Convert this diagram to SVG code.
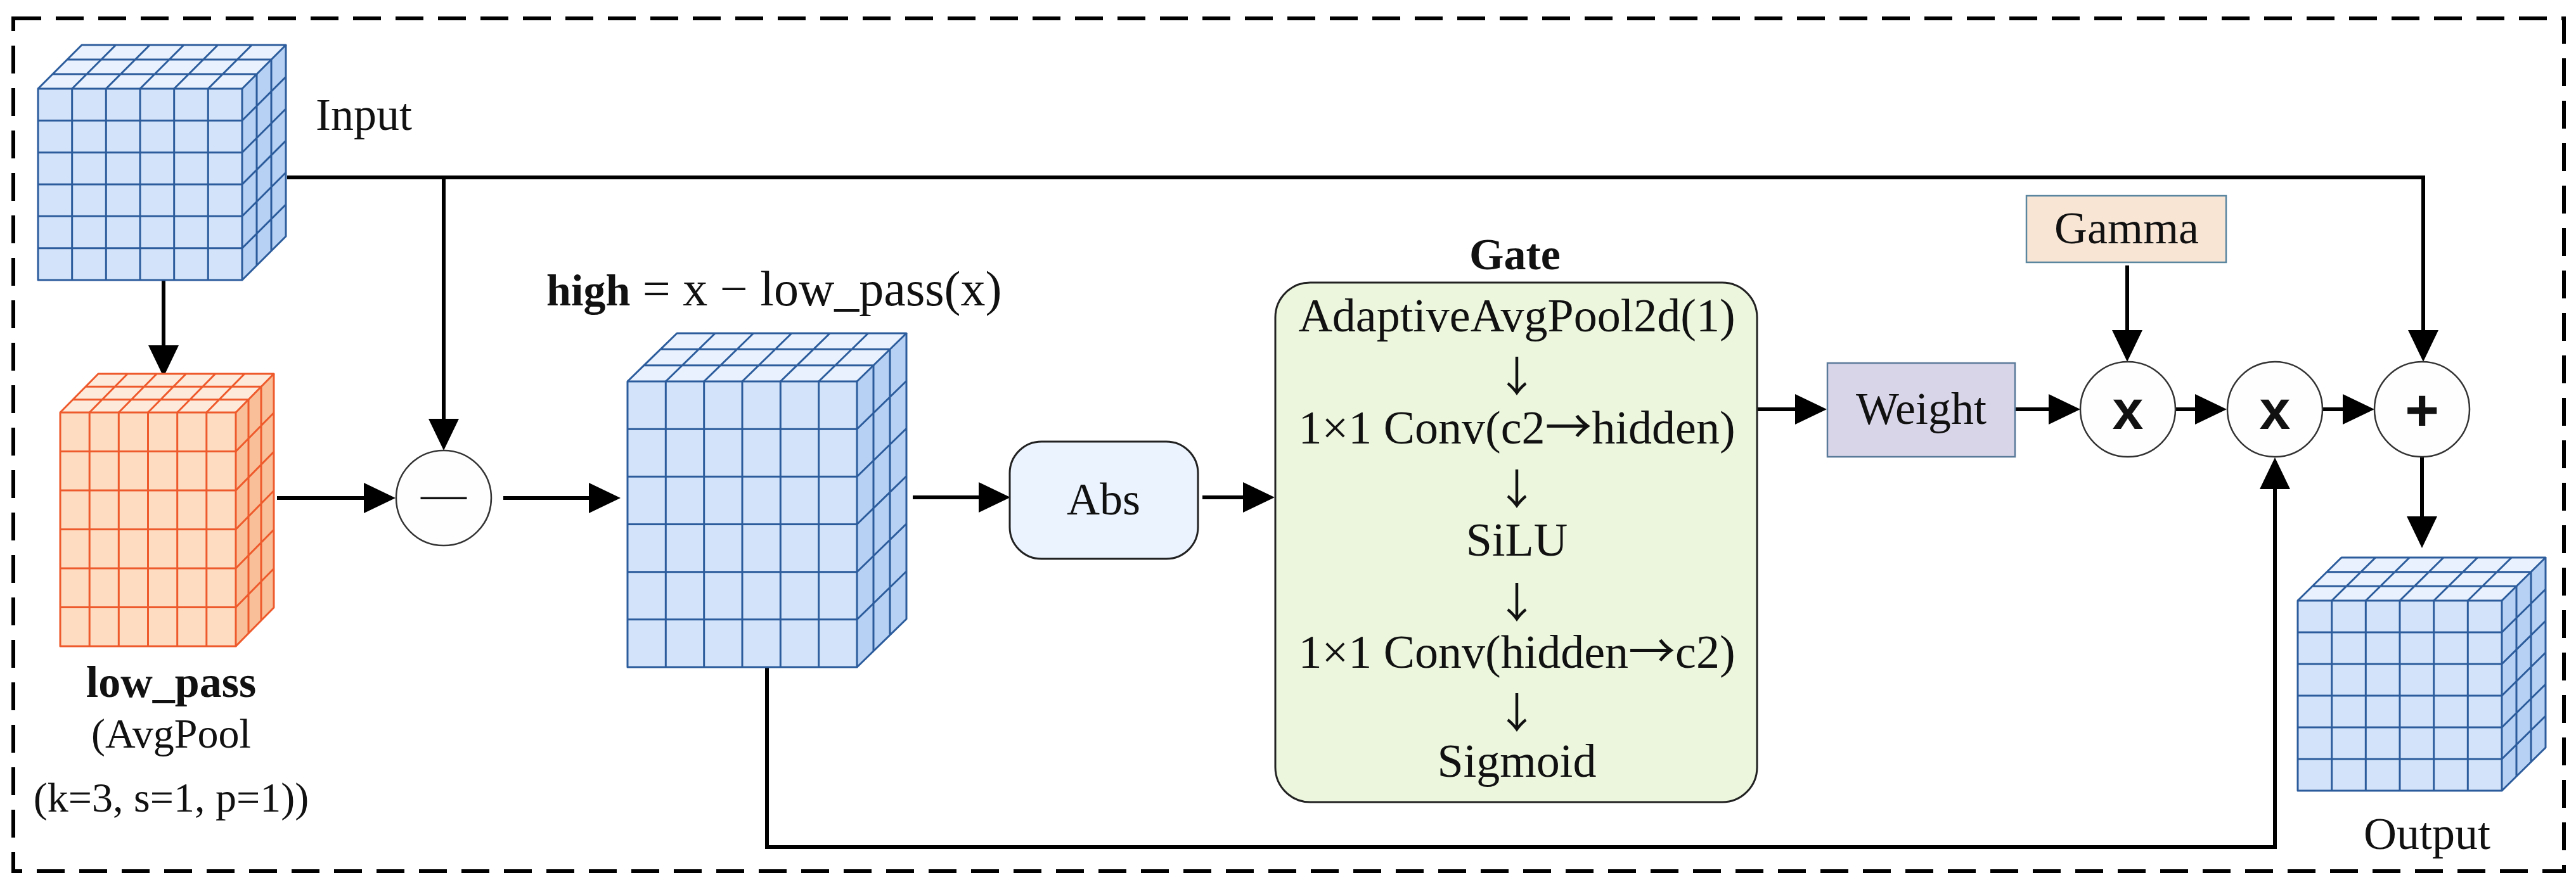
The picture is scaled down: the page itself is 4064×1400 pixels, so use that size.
<svg xmlns="http://www.w3.org/2000/svg" width="4064" height="1400" viewBox="0 0 4064 1400">
<defs>
<style>
.t{font-family:"Liberation Serif","Times New Roman",serif;fill:#111;}
.b{font-weight:bold;}
.ar{font-family:"Noto Sans CJK SC","Liberation Serif",sans-serif;}
.op{font-family:"Liberation Sans",Arial,sans-serif;font-weight:bold;fill:#111;}
.con{fill:none;stroke:#000;stroke-width:6;marker-end:url(#ah);}
.bf{fill:#D3E4FA;}
.bt{fill:#E8F1FD;}
.bs{fill:#B7D1F4;}
.bl{fill:none;stroke:#2C5C9C;stroke-width:3;stroke-linejoin:round;}
.of{fill:#FDDCC2;}
.ot{fill:#FEEADB;}
.os{fill:#F9BF98;}
.ol{fill:none;stroke:#EE5A2C;stroke-width:3;stroke-linejoin:round;}
.circ{fill:#FDFEFD;stroke:#333;stroke-width:2.5;}
</style>
<marker id="ah" viewBox="0 0 50 48" markerWidth="50" markerHeight="48" markerUnits="userSpaceOnUse" refX="30" refY="24" orient="auto">
<path d="M0,0 L50,24 L0,48 Z" fill="#000"/>
</marker>
</defs>
<rect width="4064" height="1400" fill="#fff"/>
<rect x="21" y="29" width="4024" height="1346" fill="none" stroke="#000" stroke-width="6" stroke-dasharray="44 23"/>

<g id="connectors">
<path class="con" d="M258,442 V575"/>
<path class="con" d="M453,280 H3823 V551"/>
<path class="con" d="M700,280 V691"/>
<path class="con" d="M437,786 H604"/>
<path class="con" d="M794,786 H959"/>
<path class="con" d="M1440,785 H1574"/>
<path class="con" d="M1897,785 H1991"/>
<path class="con" d="M2772,646 H2862"/>
<path class="con" d="M3179,646 H3262"/>
<path class="con" d="M3432,646 H3493"/>
<path class="con" d="M3663,646 H3726"/>
<path class="con" d="M3356,419 V551"/>
<path class="con" d="M3821,721 V845"/>
<path class="con" d="M1210,1053 V1337 H3589 V742"/>
</g>

<g id="input">
<rect class="bf" x="60" y="140" width="322" height="302"/>
<polygon class="bt" points="60,140 382,140 451,71 129,71"/>
<polygon class="bs" points="382,140 451,71 451,373 382,442"/>
<path class="bl" d="M60,140 H382 V442 H60 Z M113.7,140 V442 M167.3,140 V442 M221,140 V442 M274.7,140 V442 M328.3,140 V442 M60,190.3 H382 M60,240.7 H382 M60,291 H382 M60,341.3 H382 M60,391.7 H382"/>
<path class="bl" d="M60,140 L129,71 H451 L382,140 M83,117 H405 M106,94 H428 M113.7,140 L182.7,71 M167.3,140 L236.3,71 M221,140 L290,71 M274.7,140 L343.7,71 M328.3,140 L397.3,71"/>
<path class="bl" d="M451,71 V373 L382,442 M405,117 V419 M428,94 V396 M382,190.3 L451,121.3 M382,240.7 L451,171.7 M382,291 L451,222 M382,341.3 L451,272.3 M382,391.7 L451,322.7"/>
<text class="t" x="498" y="205" font-size="72">Input</text>
</g>

<g id="low_pass">
<rect class="of" x="95" y="651" width="277" height="369"/>
<polygon class="ot" points="95,651 372,651 432,590 155,590"/>
<polygon class="os" points="372,651 432,590 432,959 372,1020"/>
<path class="ol" d="M95,651 H372 V1020 H95 Z M141.2,651 V1020 M187.3,651 V1020 M233.5,651 V1020 M279.7,651 V1020 M325.8,651 V1020 M95,712.5 H372 M95,774 H372 M95,835.5 H372 M95,897 H372 M95,958.5 H372"/>
<path class="ol" d="M95,651 L155,590 H432 L372,651 M115,630.7 H392 M135,610.3 H412 M141.2,651 L201.2,590 M187.3,651 L247.3,590 M233.5,651 L293.5,590 M279.7,651 L339.7,590 M325.8,651 L385.8,590"/>
<path class="ol" d="M432,590 V959 L372,1020 M392,630.7 V999.7 M412,610.3 V979.3 M372,712.5 L432,651.5 M372,774 L432,713 M372,835.5 L432,774.5 M372,897 L432,836 M372,958.5 L432,897.5"/>
<text class="t b" x="270" y="1100" font-size="70" text-anchor="middle">low_pass</text>
<text class="t" x="270" y="1180" font-size="66" text-anchor="middle">(AvgPool</text>
<text class="t" x="270" y="1281" font-size="66" text-anchor="middle">(k=3, s=1, p=1))</text>
</g>

<g id="subtract">
<circle class="circ" cx="700" cy="786" r="75"/>
<text class="t" x="700" y="803" font-size="72" text-anchor="middle">—</text>
</g>

<g id="high">
<rect class="bf" x="990" y="602" width="362" height="451"/>
<polygon class="bt" points="990,602 1352,602 1430,526 1068,526"/>
<polygon class="bs" points="1352,602 1430,526 1430,977 1352,1053"/>
<path class="bl" d="M990,602 H1352 V1053 H990 Z M1050.3,602 V1053 M1110.7,602 V1053 M1171,602 V1053 M1231.3,602 V1053 M1291.7,602 V1053 M990,677.2 H1352 M990,752.3 H1352 M990,827.5 H1352 M990,902.7 H1352 M990,977.8 H1352"/>
<path class="bl" d="M990,602 L1068,526 H1430 L1352,602 M1016,576.7 H1378 M1042,551.3 H1404 M1050.3,602 L1128.3,526 M1110.7,602 L1188.7,526 M1171,602 L1249,526 M1231.3,602 L1309.3,526 M1291.7,602 L1369.7,526"/>
<path class="bl" d="M1430,526 V977 L1352,1053 M1378,576.7 V1027.7 M1404,551.3 V1002.3 M1352,677.2 L1430,601.2 M1352,752.3 L1430,676.3 M1352,827.5 L1430,751.5 M1352,902.7 L1430,826.7 M1352,977.8 L1430,901.8"/>
<text class="t" x="862" y="482" font-size="78"><tspan class="b" font-size="70">high</tspan> = x − low_pass(x)</text>
</g>

<g id="abs">
<rect x="1593" y="697" width="297" height="185" rx="50" fill="#EAF3FE" stroke="#222" stroke-width="3"/>
<text class="t" x="1741" y="812" font-size="72" text-anchor="middle">Abs</text>
</g>

<g id="gate">
<text class="t b" x="2390" y="425" font-size="70" text-anchor="middle">Gate</text>
<rect x="2012" y="446" width="760" height="820" rx="55" fill="#EBF6DD" stroke="#222" stroke-width="3"/>
<text class="t" x="2393" y="523" font-size="74" text-anchor="middle">AdaptiveAvgPool2d(1)</text>
<text class="t ar" x="2393" y="618" font-size="66" text-anchor="middle">↓</text>
<text class="t" x="2393" y="700" font-size="74" text-anchor="middle">1×1 Conv(c2<tspan class="ar">→</tspan>hidden)</text>
<text class="t ar" x="2393" y="796" font-size="66" text-anchor="middle">↓</text>
<text class="t" x="2393" y="877" font-size="74" text-anchor="middle">SiLU</text>
<text class="t ar" x="2393" y="975" font-size="66" text-anchor="middle">↓</text>
<text class="t" x="2393" y="1054" font-size="74" text-anchor="middle">1×1 Conv(hidden<tspan class="ar">→</tspan>c2)</text>
<text class="t ar" x="2393" y="1149" font-size="66" text-anchor="middle">↓</text>
<text class="t" x="2393" y="1226" font-size="74" text-anchor="middle">Sigmoid</text>
</g>

<g id="weight">
<rect x="2883" y="573" width="296" height="148" fill="#D8D5E8" stroke="#5A7A9A" stroke-width="2.5"/>
<text class="t" x="3031" y="669" font-size="72" text-anchor="middle">Weight</text>
</g>

<g id="gamma">
<rect x="3197" y="309" width="315" height="105" fill="#F8E5D4" stroke="#5A86A0" stroke-width="2.5"/>
<text class="t" x="3355" y="384" font-size="72" text-anchor="middle">Gamma</text>
</g>

<g id="mul1">
<circle class="circ" cx="3357" cy="646" r="75"/>
<text class="op" x="3357" y="677" font-size="88" text-anchor="middle">x</text>
</g>

<g id="mul2">
<circle class="circ" cx="3589" cy="646" r="75"/>
<text class="op" x="3589" y="677" font-size="88" text-anchor="middle">x</text>
</g>

<g id="add">
<circle class="circ" cx="3821" cy="646" r="75"/>
<text class="op" x="3821" y="679" font-size="92" text-anchor="middle">+</text>
</g>

<g id="output">
<rect class="bf" x="3625" y="948" width="322" height="300"/>
<polygon class="bt" points="3625,948 3947,948 4016,880 3694,880"/>
<polygon class="bs" points="3947,948 4016,880 4016,1180 3947,1248"/>
<path class="bl" d="M3625,948 H3947 V1248 H3625 Z M3678.7,948 V1248 M3732.3,948 V1248 M3786,948 V1248 M3839.7,948 V1248 M3893.3,948 V1248 M3625,998 H3947 M3625,1048 H3947 M3625,1098 H3947 M3625,1148 H3947 M3625,1198 H3947"/>
<path class="bl" d="M3625,948 L3694,880 H4016 L3947,948 M3648,925.3 H3970 M3671,902.7 H3993 M3678.7,948 L3747.7,880 M3732.3,948 L3801.3,880 M3786,948 L3855,880 M3839.7,948 L3908.7,880 M3893.3,948 L3962.3,880"/>
<path class="bl" d="M4016,880 V1180 L3947,1248 M3970,925.3 V1225.3 M3993,902.7 V1202.7 M3947,998 L4016,930 M3947,1048 L4016,980 M3947,1098 L4016,1030 M3947,1148 L4016,1080 M3947,1198 L4016,1130"/>
<text class="t" x="3829" y="1340" font-size="72" text-anchor="middle">Output</text>
</g>
</svg>
